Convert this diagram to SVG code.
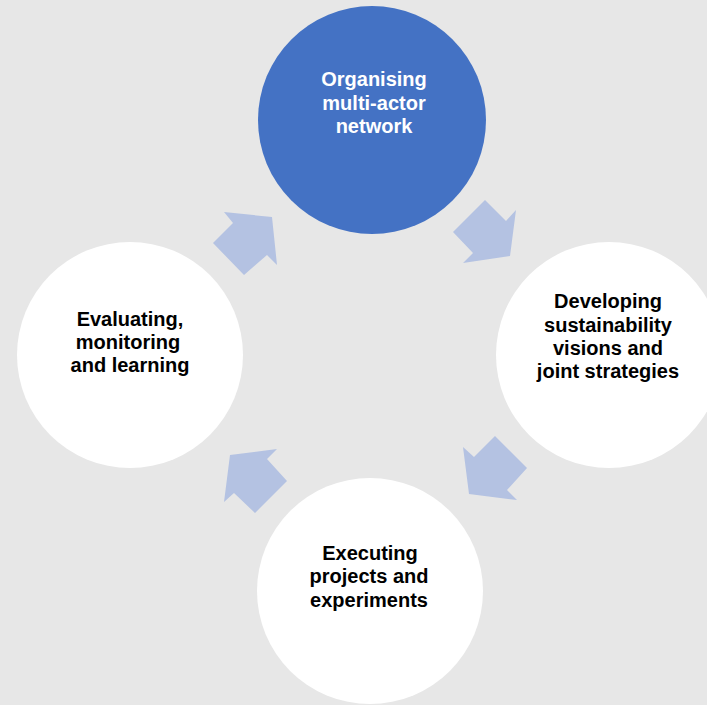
<svg xmlns="http://www.w3.org/2000/svg" width="707" height="705" viewBox="0 0 707 705">
<style>
.bg{fill:#e7e7e7}
.blue{fill:#4472c4}
.white{fill:#ffffff}
.arrow{fill:#b4c2e2}
text{font-family:"Liberation Sans",Arial,sans-serif;font-weight:bold;font-size:20px;text-anchor:middle}
.lt{fill:#ffffff}
.dk{fill:#000000}
</style>
<rect class="bg" x="0" y="0" width="707" height="705"/>
<g id="connectors">
<polygon class="arrow" points="453,232 485,200 506,221 516,210 510,256 463,263 473,253"/>
<polygon class="arrow" points="463,447 474,457 495,436 527,468 507,490 517,500 469,494"/>
<polygon class="arrow" points="230,455 277,449 267,459 287,481 255,513 234,493 224,502"/>
<polygon class="arrow" points="224,212 272,217 277,265 267,255 244,275 213,243 233,223"/>
</g>
<g id="node-organising">
<circle class="blue" cx="372" cy="120" r="114"/>
<text class="lt" x="374" y="86">Organising</text>
<text class="lt" x="374" y="110">multi-actor</text>
<text class="lt" x="374" y="133">network</text>
</g>
<g id="node-developing">
<circle class="white" cx="609" cy="355" r="113"/>
<text class="dk" x="608" y="308">Developing</text>
<text class="dk" x="608" y="332">sustainability</text>
<text class="dk" x="608" y="355">visions and</text>
<text class="dk" x="608" y="378">joint strategies</text>
</g>
<g id="node-executing">
<circle class="white" cx="370" cy="591" r="113"/>
<text class="dk" x="370" y="560">Executing</text>
<text class="dk" x="369" y="583">projects and</text>
<text class="dk" x="369" y="607">experiments</text>
</g>
<g id="node-evaluating">
<circle class="white" cx="130" cy="355" r="113"/>
<text class="dk" x="130" y="326">Evaluating,</text>
<text class="dk" x="128" y="349">monitoring</text>
<text class="dk" x="130" y="372">and learning</text>
</g>
</svg>
